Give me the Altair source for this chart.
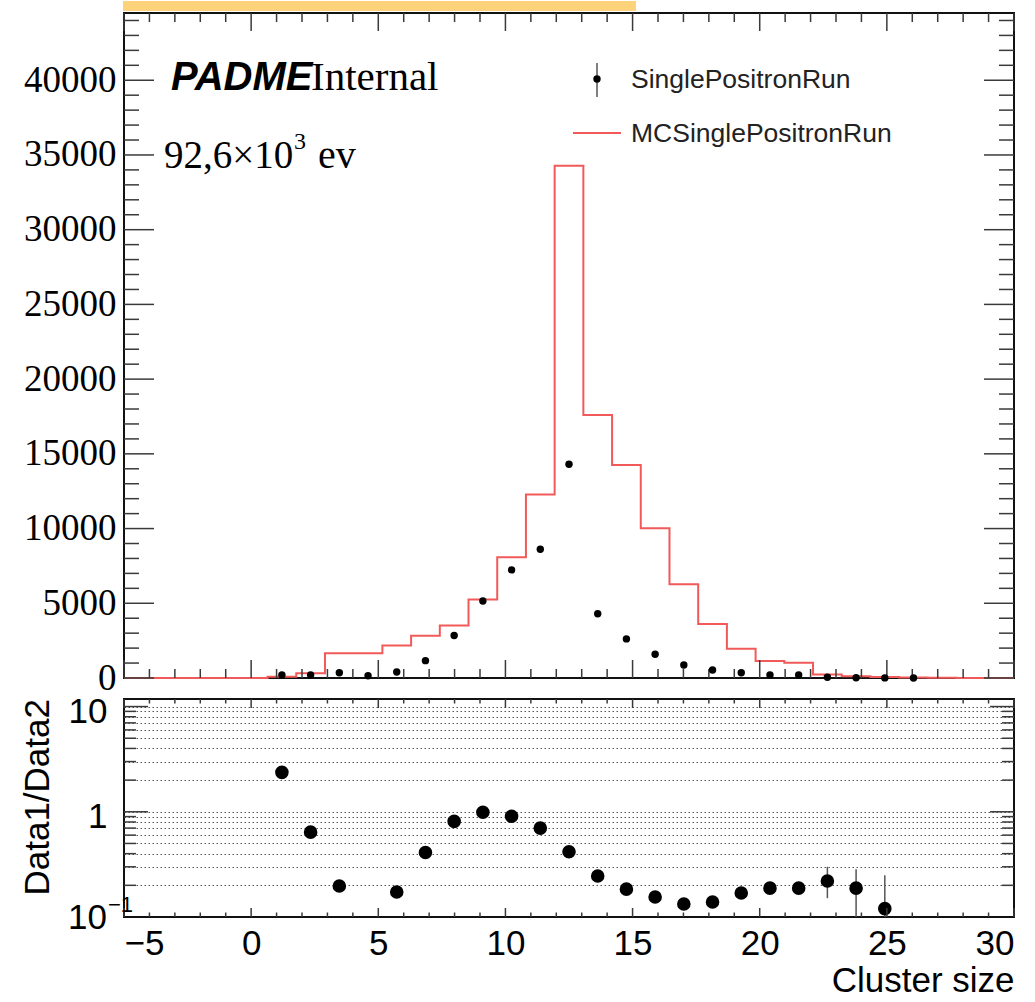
import altair as alt
import pandas as pd

# Histogram definition: 31 bins between -5 and 30
NBINS = 31
XLOW, XHIGH = -5.0, 30.0

# Monte Carlo counts per bin (red outline)
mc_counts = [0, 0, 0, 0, 0, 77, 310, 1650, 1650, 2170, 2820, 3510, 5250, 8080,
             12280, 34280, 17600, 14260, 10020, 6280, 3620, 1950, 1140, 1027,
             240, 115, 70, 40, 15, 5, 0]

# Data counts per bin (black points)
data_counts = [0, 0, 0, 0, 0, 200, 200, 355, 155, 400, 1160, 2840, 5150, 7235,
               8615, 14300, 4295, 2617, 1585, 872, 537, 355, 200, 200, 53, 22,
               8, 5, 0, 0, 0]

# Ratio Data1/Data2 for the bins where it is shown
ratio_bins = [5, 6, 7, 9, 10, 11, 12, 13, 14, 15, 16, 17, 18, 19, 20, 21, 22,
              23, 24, 25, 26]
ratio_values = [2.37, 0.64, 0.197, 0.173, 0.41, 0.81, 0.99, 0.906, 0.70, 0.417,
                0.245, 0.184, 0.155, 0.133, 0.139, 0.169, 0.188, 0.188, 0.22,
                0.188, 0.12]

# Ratio uncertainties large enough to show
err_bins = [24, 25, 26]
err_lo = [0.151, 0.05, 0.03]
err_hi = [0.30, 0.285, 0.25]

# Axis tick positions
x_major = [-5, 0, 5, 10, 15, 20, 25, 30]
x_minor = [v for v in range(-4, 30) if v % 5 != 0]
y_major = [0, 5000, 10000, 15000, 20000, 25000, 30000, 35000, 40000]
y_minor = [v for v in range(1000, 45000, 1000) if v % 5000 != 0]
r_major = [1, 10]
r_minor = [0.2, 0.3, 0.4, 0.5, 0.6, 0.7, 0.8, 0.9, 2, 3, 4, 5, 6, 7, 8, 9]
r_grid = r_minor[:8] + [1] + r_minor[8:] + [10]

bw = (XHIGH - XLOW) / NBINS
edges = [XLOW + i * bw for i in range(NBINS + 1)]
centers = [XLOW + (i + 0.5) * bw for i in range(NBINS)]

W, H_TOP, H_BOT = 890, 665, 218
RED = "#f25a5a"
TICK = "#3a3a3a"
SANS = "Liberation Sans"
SANS_SIZE = 35

xscale = alt.Scale(domain=[XLOW, XHIGH], nice=False, zero=False)
ytop = alt.Scale(domain=[0, 44500], nice=False, zero=False)
ybot = alt.Scale(type="log", domain=[0.1, 11.8], nice=False)

# Axes shared by every layer of a panel
top_y_axis = alt.Axis(values=y_major, format="d", ticks=False, domain=False,
                      grid=False, labelFont="Liberation Serif", labelFontSize=37,
                      labelColor="black", labelPadding=8)
bot_x_axis = alt.Axis(values=x_major, ticks=False, domain=False, grid=False,
                      labelFont=SANS, labelFontSize=SANS_SIZE,
                      labelColor="black", labelPadding=9,
                      titleFont=SANS, titleFontSize=35,
                      titleFontWeight="normal", titleColor="black",
                      titleAnchor="end", titlePadding=2)
bot_y_axis = alt.Axis(values=r_grid, ticks=False, domain=False, grid=True,
                      gridColor="#555", gridDash=[1.5, 2.5], gridWidth=1,
                      labelExpr="datum.value > 9 ? '10' : (datum.value > 0.95 && datum.value < 1.05 ? '1' : '')",
                      labelFont=SANS, labelFontSize=SANS_SIZE, labelOffset=5,
                      labelColor="black", labelPadding=17)

hist_df = pd.DataFrame({"edge": edges, "count": mc_counts + [mc_counts[-1]]})
pts_df = pd.DataFrame({"x": centers, "count": data_counts})
pts_df = pts_df[pts_df["count"] > 0]
ratio_df = pd.DataFrame({"x": [centers[i] for i in ratio_bins], "r": ratio_values})
err_df = pd.DataFrame({"x": [centers[i] for i in err_bins], "lo": err_lo, "hi": err_hi})


def xenc(field, panel):
    if panel == "top":
        return alt.X(field, scale=xscale, axis=None)
    return alt.X(field, scale=xscale, axis=bot_x_axis, title="Cluster size")


def yenc(field, panel):
    if panel == "top":
        return alt.Y(field, scale=ytop, axis=top_y_axis, title="")
    return alt.Y(field, scale=ybot, axis=bot_y_axis, title="")


def vticks(values, panel, length, height, top=False):
    d = pd.DataFrame({"v": values})
    if top:
        y, y2 = alt.value(0), alt.value(length)
    else:
        y, y2 = alt.value(height), alt.value(height - length)
    return alt.Chart(d).mark_rule(color=TICK, strokeWidth=1.5).encode(
        x=xenc("v:Q", panel), y=y, y2=y2)


def hticks(values, panel, length, right=False):
    d = pd.DataFrame({"v": values})
    if right:
        x, x2 = alt.value(W - length), alt.value(W)
    else:
        x, x2 = alt.value(0), alt.value(length)
    return alt.Chart(d).mark_rule(color=TICK, strokeWidth=1.5).encode(
        y=yenc("v:Q", panel), x=x, x2=x2)


def label(text, x, y, **kw):
    return alt.Chart(pd.DataFrame({"t": [text]})).mark_text(**kw).encode(
        text="t:N", x=alt.value(x), y=alt.value(y))


# ---- upper panel: counts ----
hist = alt.Chart(hist_df).mark_line(
    interpolate="step-after", color=RED, strokeWidth=2
).encode(x=xenc("edge:Q", "top"), y=yenc("count:Q", "top"))

points = alt.Chart(pts_df).mark_circle(size=55, color="black", opacity=1).encode(
    x=xenc("x:Q", "top"), y=yenc("count:Q", "top"))

banner = alt.Chart(pd.DataFrame({"a": [0]})).mark_rect(color="#fcd27b").encode(
    x=alt.value(-1), x2=alt.value(512), y=alt.value(-12), y2=alt.value(-2))

texts = [
    label("PADME", 47, 77, font="Liberation Sans", fontSize=40, fontWeight="bold",
          fontStyle="italic", align="left", baseline="alphabetic", color="black"),
    label("Internal", 187, 77, font="Liberation Serif", fontSize=41,
          align="left", baseline="alphabetic", color="black"),
    label("92,6×10", 40, 155, font="Liberation Serif", fontSize=39,
          align="left", baseline="alphabetic", color="black"),
    label("3", 170, 136, font="Liberation Serif", fontSize=24,
          align="left", baseline="alphabetic", color="black"),
    label("ev", 194, 155, font="Liberation Serif", fontSize=40,
          align="left", baseline="alphabetic", color="black"),
    label("SinglePositronRun", 507, 67, font="Liberation Sans", fontSize=26.5,
          align="left", baseline="middle", color="#222"),
    label("MCSinglePositronRun", 507, 121, font="Liberation Sans", fontSize=26.5,
          align="left", baseline="middle", color="#222"),
]

leg_dot = alt.Chart(pd.DataFrame({"a": [0]})).mark_circle(
    size=55, color="black", opacity=1).encode(x=alt.value(473), y=alt.value(66))
leg_err = alt.Chart(pd.DataFrame({"a": [0]})).mark_rule(
    color="#555", strokeWidth=1.5).encode(
    x=alt.value(473), y=alt.value(50), y2=alt.value(84))
leg_line = alt.Chart(pd.DataFrame({"a": [0]})).mark_rule(
    color=RED, strokeWidth=2).encode(
    x=alt.value(449), x2=alt.value(497), y=alt.value(120))

top = alt.layer(
    hist,
    vticks(x_major, "top", 18, H_TOP), vticks(x_minor, "top", 9, H_TOP),
    vticks(x_major, "top", 18, H_TOP, top=True),
    vticks(x_minor, "top", 9, H_TOP, top=True),
    hticks(y_major, "top", 30), hticks(y_minor, "top", 15),
    hticks(y_major, "top", 30, right=True), hticks(y_minor, "top", 15, right=True),
    points, banner, leg_err, leg_dot, leg_line, *texts,
).properties(width=W, height=H_TOP)

# ---- lower panel: ratio ----
ratio_pts = alt.Chart(ratio_df).mark_circle(size=185, color="black", opacity=1).encode(
    x=xenc("x:Q", "bot"), y=yenc("r:Q", "bot"))

ratio_err = alt.Chart(err_df).mark_rule(color="#555", strokeWidth=1.5, clip=True).encode(
    x=xenc("x:Q", "bot"), y=yenc("lo:Q", "bot"), y2="hi:Q")

# lowest decade label (10 with a raised exponent) and the rotated axis title
bot_texts = [
    label("10", -17, H_BOT + 1, font=SANS, fontSize=SANS_SIZE,
          align="right", baseline="middle", color="black"),
    label("−1", -16, H_BOT - 12, font=SANS, fontSize=22,
          align="left", baseline="middle", color="black"),
    label("Data1/Data2", -75, 0, font=SANS, fontSize=SANS_SIZE, angle=270,
          align="right", baseline="alphabetic", color="black"),
]

bottom = alt.layer(
    ratio_err, ratio_pts,
    vticks(x_major, "bot", 9, H_BOT), vticks(x_minor, "bot", 4.5, H_BOT),
    vticks(x_major, "bot", 9, H_BOT, top=True),
    vticks(x_minor, "bot", 4.5, H_BOT, top=True),
    hticks(r_major, "bot", 24), hticks(r_minor, "bot", 12),
    hticks(r_major, "bot", 24, right=True), hticks(r_minor, "bot", 12, right=True),
    *bot_texts,
).properties(width=W, height=H_BOT)

chart = alt.vconcat(top, bottom, spacing=21, bounds="flush").properties(
    padding={"left": 20, "top": 0, "right": 0, "bottom": 0},
    background="white",
).configure_view(stroke="#111", strokeWidth=2)

chart.save("out.html", embed_options={"renderer": "svg", "actions": False})
